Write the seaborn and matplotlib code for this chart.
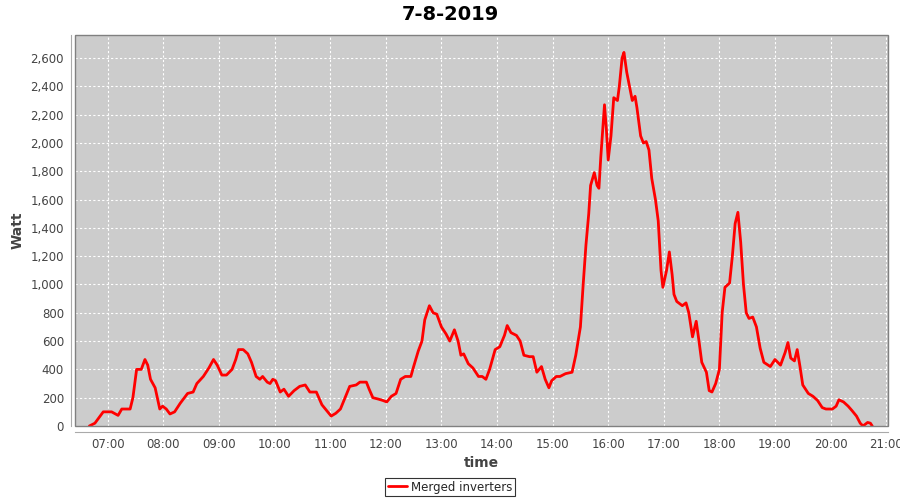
import pandas as pd
import matplotlib
matplotlib.use("Agg")
import matplotlib.pyplot as plt
import matplotlib.dates as mdates
from matplotlib.patches import Rectangle
from matplotlib.ticker import FuncFormatter, MultipleLocator
import seaborn as sns

# values (time of day, watt)
times = [
    "06:40", "06:46", "06:55", "07:04", "07:11", "07:15", "07:24", "07:27", "07:31", "07:36",
    "07:40", "07:43", "07:46", "07:51", "07:56", "07:59", "08:03", "08:07", "08:12", "08:18",
    "08:26", "08:32", "08:36", "08:43", "08:49", "08:54", "08:58", "09:03", "09:08", "09:14",
    "09:18", "09:21", "09:26", "09:31", "09:35", "09:40", "09:44", "09:47", "09:52", "09:55",
    "09:58", "10:01", "10:06", "10:10", "10:15", "10:21", "10:27", "10:33", "10:38", "10:45",
    "10:51", "10:56", "11:01", "11:06", "11:11", "11:16", "11:21", "11:28", "11:32", "11:39",
    "11:42", "11:46", "11:52", "11:57", "12:01", "12:06", "12:11", "12:16", "12:21", "12:27",
    "12:30", "12:35", "12:39", "12:42", "12:47", "12:51", "12:55", "13:00", "13:05", "13:09",
    "13:14", "13:18", "13:21", "13:24", "13:29", "13:34", "13:40", "13:44", "13:48", "13:52",
    "13:58", "14:03", "14:08", "14:11", "14:15", "14:21", "14:25", "14:29", "14:35", "14:39",
    "14:43", "14:48", "14:52", "14:56", "14:59", "15:04", "15:08", "15:14", "15:21", "15:25",
    "15:30", "15:33", "15:36", "15:39", "15:41", "15:45", "15:48", "15:50", "15:52", "15:56",
    "15:58", "16:00", "16:03", "16:06", "16:10", "16:12", "16:15", "16:17", "16:20", "16:23",
    "16:26", "16:29", "16:31", "16:35", "16:38", "16:41", "16:44", "16:47", "16:51", "16:54",
    "16:57", "16:59", "17:03", "17:06", "17:09", "17:11", "17:14", "17:20", "17:24", "17:27",
    "17:31", "17:35", "17:38", "17:41", "17:46", "17:49", "17:52", "17:56", "18:00", "18:03",
    "18:06", "18:11", "18:14", "18:17", "18:20", "18:23", "18:26", "18:29", "18:32", "18:36",
    "18:40", "18:44", "18:48", "18:55", "19:00", "19:06", "19:11", "19:14", "19:17", "19:21",
    "19:24", "19:27", "19:30", "19:36", "19:41", "19:46", "19:51", "19:55", "20:02", "20:06",
    "20:09", "20:14", "20:19", "20:23", "20:28", "20:32", "20:35", "20:40", "20:43", "20:45",
]
watt = [
    0, 20, 100, 100, 75, 120, 120, 200, 400, 400,
    470, 430, 330, 270, 120, 140, 120, 85, 100, 160,
    230, 240, 300, 350, 410, 470, 430, 360, 360, 400,
    470, 540, 540, 510, 450, 350, 330, 350, 310, 300,
    330, 320, 240, 260, 210, 250, 280, 290, 240, 240,
    150, 110, 70, 90, 120, 200, 280, 290, 310, 310,
    260, 200, 190, 180, 170, 210, 230, 330, 350, 350,
    420, 530, 600, 750, 850, 800, 790, 700, 650, 600,
    680, 600, 500, 510, 440, 410, 350, 350, 330, 400,
    540, 560, 640, 710, 660, 640, 600, 500, 490, 490,
    380, 420, 330, 270, 320, 350, 350, 370, 380, 500,
    700, 1000, 1280, 1500, 1700, 1790, 1700, 1680, 1900, 2270,
    2100, 1880, 2050, 2320, 2300, 2400, 2600, 2640, 2500, 2400,
    2300, 2330, 2250, 2050, 2000, 2010, 1950, 1750, 1600, 1450,
    1100, 980, 1100, 1230, 1070, 930, 880, 850, 870, 800,
    630, 740, 600, 450, 380, 250, 240, 300, 400, 800,
    980, 1010, 1200, 1430, 1510, 1300, 1000, 800, 760, 770,
    700, 550, 450, 420, 470, 430, 520, 590, 480, 460,
    540, 420, 290, 230, 210, 180, 130, 120, 120, 140,
    185, 170, 140, 110, 70, 20, 0, 25, 20, 0,
]

day = "2019-08-07 "
df = pd.DataFrame({"time": pd.to_datetime([day + t for t in times]), "watt": watt})

sns.set_style("white")
plt.rcParams["font.family"] = ["DejaVu Sans"]

fig = plt.figure(figsize=(9, 5), dpi=100)
# plot area: x 75..888 px, y 35..426 px
ax = fig.add_axes([75 / 900, 1 - 426 / 500, 813 / 900, 391 / 500])
ax.set_facecolor("#cccccc")

sns.lineplot(data=df, x="time", y="watt", ax=ax, color="red", linewidth=2,
             label="Merged inverters")

# axis ranges
ax.set_xlim(pd.Timestamp(day + "06:24:30"), pd.Timestamp(day + "21:02:00"))
ax.set_ylim(0, 2763)

ax.yaxis.set_major_locator(MultipleLocator(200))
ax.yaxis.set_major_formatter(FuncFormatter(lambda v, p: f"{int(v):,}"))
ax.xaxis.set_major_locator(mdates.HourLocator())
ax.xaxis.set_major_formatter(mdates.DateFormatter("%H:%M"))

ax.grid(True, color="white", linestyle=(0, (2, 2)), linewidth=0.8)
ax.tick_params(axis="both", length=3, width=0.8, color="#999999",
               labelsize=8.5, labelcolor="#444444", pad=2)

# JFreeChart style: axes offset from plot, grey outline round the plot
for side in ["top", "right"]:
    ax.spines[side].set_visible(False)
ax.spines["left"].set_position(("outward", 3))
ax.spines["bottom"].set_position(("outward", 4))
for side in ["left", "bottom"]:
    ax.spines[side].set_color("#aaaaaa")
    ax.spines[side].set_linewidth(0.8)
ax.add_patch(Rectangle((0, 0), 1, 1, transform=ax.transAxes, fill=False,
                       edgecolor="#808080", linewidth=1, clip_on=False, zorder=5))

ax.set_xlabel("time", fontsize=10, fontweight="bold", color="#444444", labelpad=3)
ax.set_ylabel("Watt", fontsize=10, fontweight="bold", color="#444444", labelpad=4)
fig.suptitle("7-8-2019", fontsize=14, fontweight="bold", color="black", y=0.99)

leg = ax.legend(loc="center", bbox_to_anchor=(0.5, 1 - 487 / 500), bbox_transform=fig.transFigure,
                frameon=True, fancybox=False, fontsize=8.5, handlelength=1.6,
                borderpad=0.25, handletextpad=0.3, borderaxespad=0)
leg.get_frame().set_edgecolor("black")
leg.get_frame().set_linewidth(0.8)

plt.savefig("out.png", dpi=100)
